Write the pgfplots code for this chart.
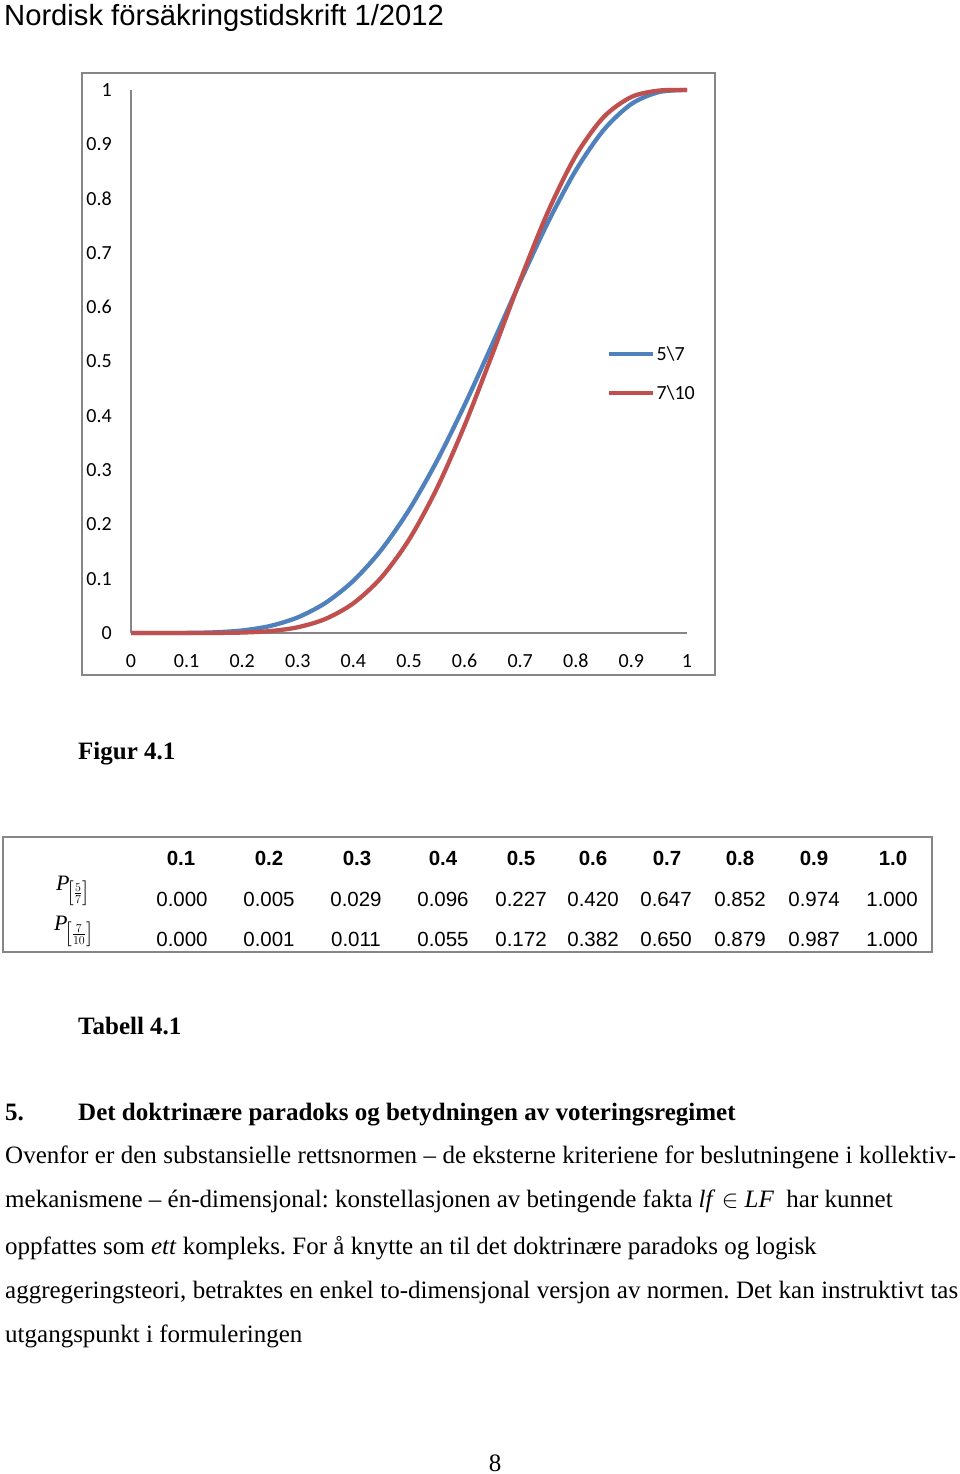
\documentclass[border=0pt]{standalone}
\usepackage{fontspec}
\setmainfont{Liberation Serif}
\newfontfamily\arial{Liberation Sans}
\newfontfamily\carlito{Carlito}
\usepackage{pgfplots}
\pgfplotsset{compat=1.18}
\definecolor{xlblue}{HTML}{4F81BD}
\definecolor{xlred}{HTML}{C0504D}
\definecolor{xlgray}{HTML}{868686}
\newcommand{\fs}[1]{\fontsize{#1}{#1}\selectfont}
\frenchspacing
\begin{document}
\begin{tikzpicture}[x=1pt,y=1pt]
\fill[white] (0,0) rectangle (960,-1474);
\useasboundingbox (0,0) rectangle (960,-1474);
\node[anchor=base west, inner sep=0pt] at (4,-26) {\arial\fs{29.2}Nordisk försäkringstidskrift 1/2012};
\draw[xlgray, line width=1.5pt] (82,-73) rectangle (715,-675);
\begin{axis}[at={(131pt,-633pt)}, anchor=south west, scale only axis,
  width=556pt, height=543pt, xmin=0, xmax=1, ymin=0, ymax=1,
  axis lines=left, axis line style={-, draw=xlgray, line width=1.2pt},
  xtick={0,0.1,0.2,0.3,0.4,0.5,0.6,0.7,0.8,0.9,1},
  xticklabels={0,0.1,0.2,0.3,0.4,0.5,0.6,0.7,0.8,0.9,1},
  ytick={0,0.1,0.2,0.3,0.4,0.5,0.6,0.7,0.8,0.9,1},
  yticklabels={0,0.1,0.2,0.3,0.4,0.5,0.6,0.7,0.8,0.9,1},
  major tick length=0pt, tick style={draw=none},
  xticklabel style={font=\carlito\fs{20}, anchor=center, inner sep=0pt, yshift=-28pt},
  yticklabel style={font=\carlito\fs{20}, anchor=east, inner sep=0pt, xshift=-19pt},
  clip=false,
  legend style={draw=none, fill=none, at={(0.856,0.530)}, anchor=north west, inner sep=0pt,
    font=\carlito\fs{20}, row sep=21pt, nodes={inner sep=1.2pt}},
  legend cell align=left,
  legend image code/.code={\draw[#1] (0pt,0pt) -- (44pt,0pt);},
]
\addplot[xlblue, line width=4.3pt, smooth] coordinates {
(0,0) (0.05,0.000006) (0.1,0.000177) (0.15,0.00122) (0.2,0.00467) (0.25,0.01288)
(0.3,0.02880) (0.35,0.05561) (0.4,0.09626) (0.45,0.15293) (0.5,0.22656)
(0.55,0.31644) (0.6,0.41990) (0.65,0.53228) (0.7,0.64707) (0.75,0.75641)
(0.8,0.85197) (0.85,0.92624) (0.9,0.97431) (0.95,0.99624) (1,1)};
\addlegendentry{5\textbackslash 7}
\addplot[xlred, line width=4.3pt, smooth] coordinates {
(0,0) (0.05,0.0000001) (0.1,0.0000091) (0.15,0.000135) (0.2,0.000864) (0.25,0.003506)
(0.3,0.010592) (0.35,0.026024) (0.4,0.054762) (0.45,0.101996) (0.5,0.171875)
(0.55,0.266033) (0.6,0.382281) (0.65,0.513823) (0.7,0.649611) (0.75,0.775876)
(0.8,0.879126) (0.85,0.950030) (0.9,0.987204) (0.95,0.998972) (1,1)};
\addlegendentry{7\textbackslash 10}
\end{axis}
\node[anchor=base west, inner sep=0pt] at (78,-759) {\fs{25}\bfseries Figur 4.1};
% table
\draw[xlgray, line width=1.5pt] (3,-837) rectangle (932,-952);
\foreach \x/\t in {181/0.1,269/0.2,357/0.3,443/0.4,521/0.5,593/0.6,667/0.7,740/0.8,814/0.9,893/1.0}
  \node[anchor=center, inner sep=0pt] at (\x,-858) {\arial\fs{20.5}\bfseries \t};
\foreach \x/\t in {182/0.000,269/0.005,356/0.029,443/0.096,521/0.227,593/0.420,666/0.647,740/0.852,814/0.974,892/1.000}
  \node[anchor=center, inner sep=0pt] at (\x,-899) {\arial\fs{20.5}\t};
\foreach \x/\t in {182/0.000,269/0.001,356/0.011,443/0.055,521/0.172,593/0.382,666/0.650,740/0.879,814/0.987,892/1.000}
  \node[anchor=center, inner sep=0pt] at (\x,-939) {\arial\fs{20.5}\t};
\node[anchor=base west, inner sep=0pt] at (56,-890) {\fs{22}\textit{P}\kern-2pt\raisebox{-8pt}{\fs{25}$\scriptstyle\left[\frac{5}{7}\right]$}};
\node[anchor=base west, inner sep=0pt] at (54,-930) {\fs{22}\textit{P}\kern-2pt\raisebox{-9pt}{\fs{25}$\scriptstyle\left[\frac{7}{10}\right]$}};
\node[anchor=base west, inner sep=0pt] at (78,-1034) {\fs{25}\bfseries Tabell 4.1};
\node[anchor=base west, inner sep=0pt] at (5,-1120) {\fs{25}\bfseries 5.};
\node[anchor=base west, inner sep=0pt] at (78,-1120) {\fs{25}\bfseries Det doktrinære paradoks og betydningen av voteringsregimet};
\node[anchor=base west, inner sep=0pt] at (5,-1163) {\fs{25}\makebox[951pt][s]{Ovenfor er den substansielle rettsnormen -- de eksterne kriteriene for beslutningene i kollektiv-}};
\node[anchor=base west, inner sep=0pt] at (5,-1207) {\fs{25}mekanismene -- én-dimensjonal: konstellasjonen av betingende fakta \textit{lf} $\in$ \textit{LF}\ \ har kunnet};
\node[anchor=base west, inner sep=0pt] at (5,-1254) {\fs{25}oppfattes som \textit{ett} kompleks. For å knytte an til det doktrinære paradoks og logisk};
\node[anchor=base west, inner sep=0pt] at (5,-1298) {\fs{25}\makebox[953pt][s]{aggregeringsteori, betraktes en enkel to-dimensjonal versjon av normen. Det kan instruktivt tas}};
\node[anchor=base west, inner sep=0pt] at (5,-1342) {\fs{25}utgangspunkt i formuleringen};
\node[anchor=base, inner sep=0pt] at (495,-1471) {\fs{25}8};
\end{tikzpicture}
\end{document}
